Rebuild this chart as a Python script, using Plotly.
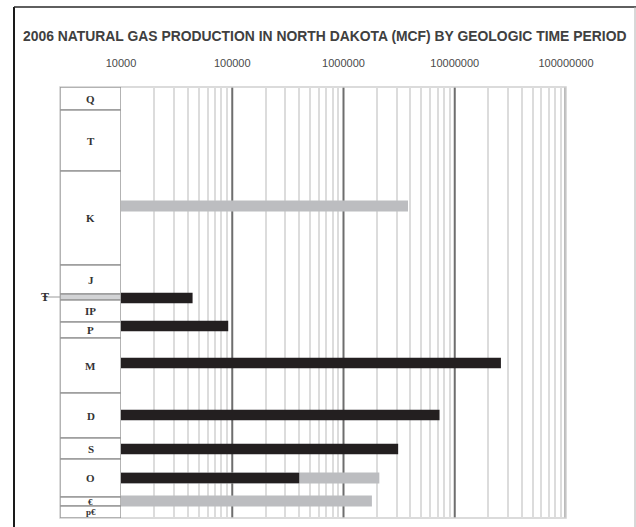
import plotly.graph_objects as go

# Stratigraphic column: period symbols and the top/bottom of each cell (column units, 0 = top)
periods = ["Q", "T", "K", "J", "Ŧ", "IP", "P", "M", "D", "S", "O", "€", "p€"]
col_bounds = [0, 23, 84, 178, 207, 213, 235, 251, 306, 351, 372, 410, 419, 431]

# Gas production (MCF), 2006 — two series drawn as overlaid bars
black_periods = ["Ŧ", "P", "M", "D", "S", "O"]
black_pos = [211, 239, 276, 328, 362, 391]
black_mcf = [44000, 92000, 26000000, 7300000, 3100000, 400000]

gray_periods = ["K", "O", "€"]
gray_pos = [119, 391, 414]
gray_mcf = [3800000, 2100000, 1800000]

tick_vals = [1e4, 1e5, 1e6, 1e7, 1e8]
tick_text = ["10000", "100000", "1000000", "10000000", "100000000"]

title = "2006 NATURAL GAS PRODUCTION IN NORTH DAKOTA (MCF) BY GEOLOGIC TIME PERIOD"

W, H = 636, 527
L, R, T, B = 60, 70, 87, 9
PW, PH = W - L - R, H - T - B
col_frac = 61 / PW


def px(xp):
    return (xp - L) / PW


def py(yp):
    return (H - B - yp) / PH


fig = go.Figure()

fig.add_trace(go.Bar(
    y=gray_pos, x=gray_mcf, orientation="h", width=11,
    marker=dict(color="#bcbdc0", line=dict(width=0)),
    text=gray_periods, textposition="none", hoverinfo="x+text", showlegend=False,
))
fig.add_trace(go.Bar(
    y=black_pos, x=black_mcf, orientation="h", width=10.5,
    marker=dict(color="#231f20", line=dict(width=0)),
    text=black_periods, textposition="none", hoverinfo="x+text", showlegend=False,
))

shapes = []
annotations = []

# column cells and their symbols
for i, name in enumerate(periods):
    y0, y1 = col_bounds[i], col_bounds[i + 1]
    fill = "#d2d3d5" if name == "Ŧ" else "white"
    shapes.append(dict(type="rect", xref="x2", yref="y", x0=0, x1=1, y0=y0, y1=y1,
                       fillcolor=fill, line=dict(color="#9a9a9a", width=1.5), layer="above"))
    if name == "Ŧ":
        # thin cell: symbol sits outside the column on a leader line
        shapes.append(dict(type="line", xref="paper", yref="y", x0=px(44), x1=0,
                           y0=(y0 + y1) / 2, y1=(y0 + y1) / 2,
                           line=dict(color="#9a9a9a", width=1)))
        annotations.append(dict(text="<b>Ŧ</b>", xref="paper", yref="y", x=px(39),
                                y=(y0 + y1) / 2, showarrow=False,
                                font=dict(family="Liberation Serif", size=12, color="#333")))
    else:
        annotations.append(dict(text=f"<b>{name}</b>", xref="x2", yref="y", x=0.5,
                                y=(y0 + y1) / 2, showarrow=False,
                                font=dict(family="Liberation Serif", size=11 if y1 - y0 > 12 else 9,
                                          color="#333")))

# major decade lines
for v in tick_vals[1:4]:
    shapes.append(dict(type="line", xref="x", yref="paper", x0=v, x1=v, y0=0, y1=1,
                       line=dict(color="#6e6e6e", width=2), layer="below"))
shapes.append(dict(type="line", xref="x", yref="paper", x0=1e8, x1=1e8, y0=0, y1=1,
                   line=dict(color="#a5a5a5", width=3.5), layer="below"))
# light outline of the plotting box
shapes.append(dict(type="rect", xref="paper", yref="paper", x0=0, x1=1, y0=0, y1=1,
                   line=dict(color="#d0d0d0", width=1.5), layer="below"))

# page frame
shapes.append(dict(type="line", xref="paper", yref="paper", x0=px(14), x1=px(14),
                   y0=py(7), y1=py(540), line=dict(color="#1a1a1a", width=2)))
shapes.append(dict(type="line", xref="paper", yref="paper", x0=px(14), x1=px(636),
                   y0=py(7), y1=py(7), line=dict(color="#2a2a2a", width=1.5)))
shapes.append(dict(type="line", xref="paper", yref="paper", x0=px(635), x1=px(635),
                   y0=py(7), y1=py(540), line=dict(color="#b0b0b0", width=1)))

annotations.append(dict(text=f"<b>{title}</b>", xref="paper", yref="paper", x=px(325),
                        y=py(36), yanchor="middle", xanchor="center", showarrow=False,
                        font=dict(family="Liberation Sans", size=13.9, color="#404040")))

minor_vals = [m * 10 ** e for e in range(4, 8) for m in range(2, 10)]

fig.update_layout(
    width=W, height=H,
    margin=dict(l=L, r=R, t=T, b=B, pad=0),
    paper_bgcolor="white", plot_bgcolor="white",
    barmode="overlay",
    xaxis=dict(type="log", range=[4, 8], domain=[col_frac, 1], side="top",
               tickvals=tick_vals, ticktext=tick_text, ticks="", showgrid=False,
               ticklabelstandoff=17, zeroline=False, showline=False,
               tickfont=dict(family="Liberation Sans", size=11, color="#4a4a4a"),
               minor=dict(tickvals=minor_vals, showgrid=True, gridcolor="#dcdcdc",
                          gridwidth=1.5, ticks="")),
    xaxis2=dict(domain=[0, col_frac], range=[0, 1], showgrid=False, showticklabels=False,
                zeroline=False, showline=False, anchor="y"),
    yaxis=dict(range=[431, 0], showgrid=False, showticklabels=False, zeroline=False,
               showline=False),
    shapes=shapes,
    annotations=annotations,
    showlegend=False,
)

fig.write_html("out.html")
